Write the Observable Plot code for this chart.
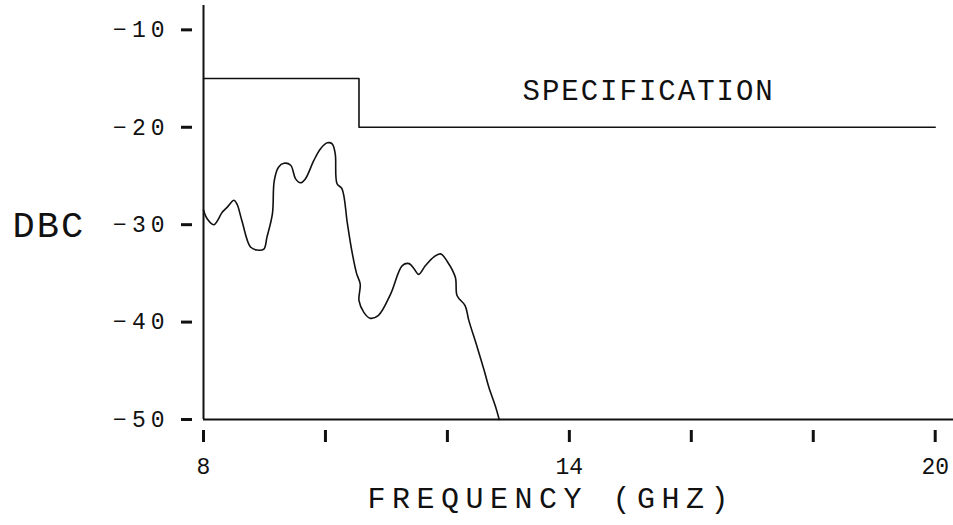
<!DOCTYPE html>
<html>
<head>
<meta charset="utf-8">
<script src="https://cdn.jsdelivr.net/npm/d3@7"></script>
<script src="https://cdn.jsdelivr.net/npm/@observablehq/plot@0.6"></script>
<style>
  html, body { margin: 0; padding: 0; background: #fff; }
  #chart svg { display: block; }
</style>
</head>
<body>
<div id="chart"></div>
<script>
// Measured response (frequency in GHz, level in dBc)
const freq = [8.00, 8.06, 8.17, 8.31, 8.39, 8.50, 8.55, 8.63, 8.77, 8.88, 8.99, 9.04, 9.13, 9.16, 9.23, 9.32, 9.43, 9.51, 9.59, 9.67, 9.81, 9.92, 10.03, 10.11, 10.16, 10.19, 10.27, 10.36, 10.43, 10.51, 10.57, 10.55, 10.63, 10.73, 10.87, 11.07, 11.26, 11.37, 11.45, 11.53, 11.64, 11.78, 11.89, 12.00, 12.13, 12.16, 12.29, 12.35, 12.49, 12.60, 12.68, 12.79, 12.85];
const dbc = [-28.5, -29.4, -30.0, -28.7, -28.2, -27.5, -27.9, -29.6, -32.3, -32.6, -32.5, -31.3, -28.9, -25.5, -24.1, -23.7, -23.9, -25.3, -25.7, -25.3, -23.4, -22.2, -21.6, -21.7, -22.7, -25.8, -26.3, -29.9, -32.6, -35.0, -36.1, -37.8, -39.0, -39.6, -39.3, -37.1, -34.2, -34.0, -34.5, -35.1, -34.2, -33.3, -33.0, -33.8, -35.4, -37.3, -38.3, -39.8, -42.6, -44.9, -46.7, -48.7, -50.0];

// Specification limit (step)
const specFreq = [8, 10.55, 20];
const specDbc = [-15, -20, -20];

// Axes
const xTicks = [8, 10, 12, 14, 16, 18, 20];
const xTickLabels = {8: "8", 14: "14", 20: "20"};
const yTicks = [-10, -20, -30, -40, -50];
const xDomain = [8, 20.3];
const yDomain = [-50, -7.5];

// Texts
const yLabel = "DBC";
const xLabel = "FREQUENCY (GHZ)";
const specLabel = "SPECIFICATION";

const curve = freq.map((f, i) => ({f, v: dbc[i]}));
const spec = specFreq.map((f, i) => ({f, v: specDbc[i]}));

const FONT = "'Liberation Mono', 'DejaVu Sans Mono', monospace";

const svg = Plot.plot({
  width: 953,
  height: 525,
  marginLeft: 203,
  marginRight: 0,
  marginTop: 5,
  marginBottom: 106,
  style: {background: "#fff", color: "#111", fontFamily: FONT},
  x: {domain: xDomain},
  y: {domain: yDomain},
  marks: [
    Plot.ruleX([xDomain[0]], {stroke: "#111", strokeWidth: 2}),
    Plot.ruleY([yDomain[0]], {stroke: "#111", strokeWidth: 2}),
    Plot.axisY({
      ticks: yTicks, tickSize: 11, dx: -11, tickPadding: 12,
      strokeWidth: 3, fontSize: 23, fontFamily: FONT, fill: "#111", label: null
    }),
    Plot.axisX({
      ticks: xTicks, tickSize: 12, dy: 11, tickPadding: 15,
      tickFormat: d => xTickLabels[d] ?? "",
      strokeWidth: 3, fontSize: 23, fontFamily: FONT, fill: "#111", label: null
    }),
    Plot.line(spec, {x: "f", y: "v", curve: "step-after", stroke: "#111", strokeWidth: 1.6}),
    Plot.line(curve, {x: "f", y: "v", curve: "catmull-rom", stroke: "#111", strokeWidth: 1.6}),
    Plot.text([yLabel], {frameAnchor: "top-left", dx: -191, dy: 220, textAnchor: "start", lineAnchor: "middle", fontSize: 37, fontFamily: FONT, fill: "#111"}),
    Plot.text([specLabel], {frameAnchor: "top-left", dx: 319, dy: 85.5, textAnchor: "start", lineAnchor: "middle", fontSize: 29, fontFamily: FONT, fill: "#111"}),
    Plot.text([xLabel], {frameAnchor: "top-left", dx: 164, dy: 492.5, textAnchor: "start", lineAnchor: "middle", fontSize: 30, fontFamily: FONT, fill: "#111"})
  ]
});

// plotter-style wide letter spacing
const spacing = {[yLabel]: 2, [specLabel]: 2, [xLabel]: 6.5};
d3.select(svg).selectAll("text").each(function() {
  const t = this.textContent;
  const parent = this.parentNode.getAttribute("aria-label") || "";
  if (spacing[t] !== undefined) this.style.letterSpacing = spacing[t] + "px";
  else if (parent.startsWith("y-axis")) this.style.letterSpacing = "5px";
});

document.getElementById("chart").append(svg);
</script>
</body>
</html>
